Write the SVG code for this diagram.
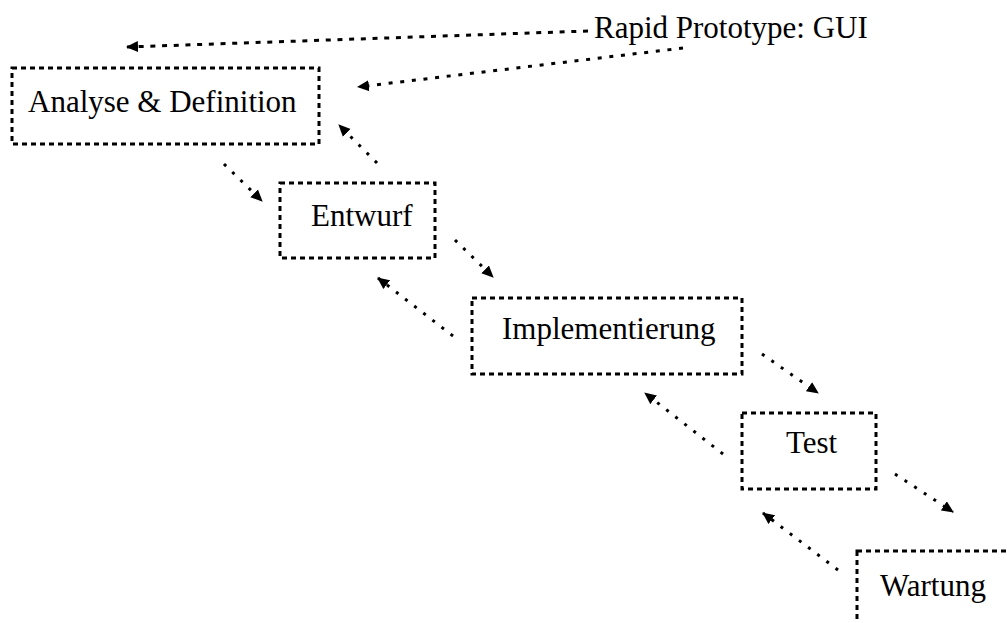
<svg xmlns="http://www.w3.org/2000/svg" width="1007" height="623" viewBox="0 0 1007 623">
<style>
.box{fill:none;stroke:#000;stroke-width:3;stroke-dasharray:5 4}
.lbl{font-family:"Liberation Serif","Times New Roman",serif;font-size:31px;fill:#000}
.con{fill:none;stroke:#000;stroke-width:3;marker-end:url(#ah)}
.h1{stroke-dasharray:5 6.7}
.h2{stroke-dasharray:4 7.7}
.d{stroke-dasharray:3 8.5}
</style>
<defs>
<marker id="ah" markerUnits="userSpaceOnUse" markerWidth="12" markerHeight="12" viewBox="0 0 12 12" refX="11" refY="6" orient="auto">
<path d="M0,0.5 L12,6 L0,11.5 z" fill="#000"/>
</marker>
</defs>
<rect width="1007" height="623" fill="#fff"/>
<g id="connectors">
<line class="con h1" x1="588" y1="31" x2="127" y2="47"/>
<line class="con h2" x1="683" y1="48" x2="358" y2="87"/>
<line class="con d" x1="377" y1="163" x2="339" y2="125"/>
<line class="con d" x1="224" y1="164" x2="262" y2="201"/>
<line class="con d" x1="455" y1="240" x2="493" y2="277"/>
<line class="con d" x1="453" y1="336" x2="378" y2="278"/>
<line class="con d" x1="762" y1="354" x2="818" y2="393"/>
<line class="con d" x1="723" y1="454" x2="645" y2="393"/>
<line class="con d" x1="895" y1="474" x2="953" y2="512"/>
<line class="con d" x1="838" y1="570" x2="763" y2="513"/>
</g>
<g id="rapid">
<text class="lbl" x="594" y="38">Rapid Prototype: GUI</text>
</g>
<g id="analyse">
<rect class="box" x="12" y="68" width="307" height="76"/>
<text class="lbl" x="28" y="112">Analyse &amp; Definition</text>
</g>
<g id="entwurf">
<rect class="box" x="280" y="183" width="155" height="75"/>
<text class="lbl" x="311" y="226">Entwurf</text>
</g>
<g id="implementierung">
<rect class="box" x="472" y="298" width="270" height="76"/>
<text class="lbl" x="502" y="339">Implementierung</text>
</g>
<g id="test">
<rect class="box" x="742" y="413" width="134" height="76"/>
<text class="lbl" x="786" y="453">Test</text>
</g>
<g id="wartung">
<rect class="box" x="857" y="551" width="165" height="85"/>
<text class="lbl" x="880" y="596">Wartung</text>
</g>
</svg>
